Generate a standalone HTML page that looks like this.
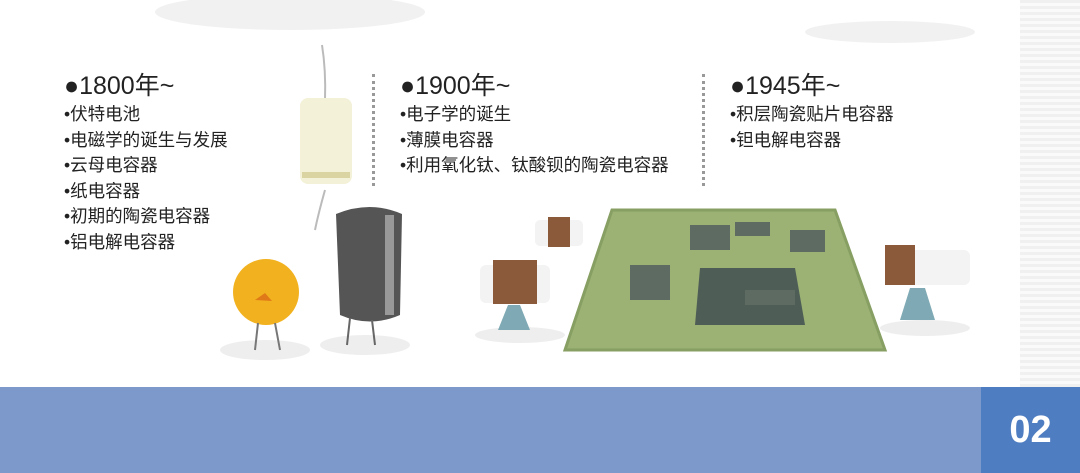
<!DOCTYPE html>
<html><head><meta charset="utf-8"><style>
body{margin:0;width:1080px;height:473px;position:relative;overflow:hidden;background:#fff;font-family:"Liberation Sans","Noto Sans CJK SC",sans-serif;color:#222}
.stripe{position:absolute;left:1020px;top:0;width:60px;height:387px;background:repeating-linear-gradient(#f0f0f0 0 3px,#fafafa 3px 6px)}
.band{position:absolute;left:0;top:387px;width:1080px;height:86px;background:#7d99cc}
.box{position:absolute;left:981px;top:387px;width:99px;height:86px;background:#4f7dc1;color:#fff;font-weight:bold;font-size:38px;text-align:center;line-height:86px}
.col{position:absolute;font-size:17.5px;line-height:25.5px;white-space:nowrap}
.col h{display:block;font-size:25px;line-height:30px;margin-bottom:1px}
.dots{position:absolute;width:0;border-left:3px dotted #999}
</style></head><body>
<div class="stripe"></div>
<svg width="1080" height="473" style="position:absolute;left:0;top:0">
<ellipse cx="290" cy="12" rx="135" ry="18" fill="#f1f1f1"/>
<ellipse cx="890" cy="32" rx="85" ry="11" fill="#f1f1f1"/>
<ellipse cx="265" cy="350" rx="45" ry="10" fill="#eee"/>
<ellipse cx="365" cy="345" rx="45" ry="10" fill="#eee"/>
<ellipse cx="925" cy="328" rx="45" ry="8" fill="#eee"/>
<ellipse cx="520" cy="335" rx="45" ry="8" fill="#eee"/>
<path d="M322 45 Q326 70 325 100" stroke="#bbb" stroke-width="2" fill="none"/>
<path d="M325 190 Q318 215 315 230" stroke="#bbb" stroke-width="2" fill="none"/>
<rect x="300" y="98" width="52" height="86" rx="8" fill="#f3f1d8"/>
<rect x="302" y="172" width="48" height="6" fill="#d9d4a2"/>
<path d="M336 214 Q370 200 402 214 L400 315 Q370 328 340 315 Z" fill="#555"/>
<rect x="385" y="215" width="9" height="100" fill="#999"/>
<path d="M350 318 L347 345 M372 320 L375 345" stroke="#666" stroke-width="2"/>
<circle cx="266" cy="292" r="33" fill="#f2b21f"/>
<path d="M255 300 L265 293 L272 301 Z" fill="#e07a18"/>
<path d="M258 323 L255 350 M275 323 L280 350" stroke="#777" stroke-width="2"/>
<path d="M612 210 L835 210 L885 350 L565 350 Z" fill="#9bb274"/>
<path d="M612 210 L835 210 L885 350 L565 350 Z" fill="none" stroke="#879f62" stroke-width="3"/>
<rect x="690" y="225" width="40" height="25" fill="#5d6b63"/>
<rect x="790" y="230" width="35" height="22" fill="#5d6b63"/>
<rect x="735" y="222" width="35" height="14" fill="#5d6b63"/>
<rect x="630" y="265" width="40" height="35" fill="#5d6b63"/>
<path d="M700 268 L795 268 L805 325 L695 325 Z" fill="#4f5d57"/>
<rect x="745" y="290" width="50" height="15" fill="#5d6b63"/>
<rect x="535" y="220" width="48" height="26" rx="5" fill="#f3f3f3"/><rect x="548" y="217" width="22" height="30" fill="#8a5a3a"/>
<rect x="480" y="265" width="70" height="38" rx="6" fill="#f3f3f3"/><rect x="493" y="260" width="44" height="44" fill="#8a5a3a"/>
<path d="M508 305 L498 330 L530 330 L520 305 Z" fill="#7faab5"/>
<rect x="885" y="250" width="85" height="35" rx="6" fill="#f3f3f3"/><rect x="885" y="245" width="30" height="40" fill="#8a5a3a"/>
<path d="M910 288 L900 320 L935 320 L925 288 Z" fill="#7faab5"/>
</svg>
<div class="dots" style="left:372px;top:74px;height:112px"></div>
<div class="dots" style="left:702px;top:74px;height:112px"></div>
<div class="col" style="left:64px;top:71px"><h>●1800年~</h>•伏特电池<br>•电磁学的诞生与发展<br>•云母电容器<br>•纸电容器<br>•初期的陶瓷电容器<br>•铝电解电容器</div>
<div class="col" style="left:400px;top:71px"><h>●1900年~</h>•电子学的诞生<br>•薄膜电容器<br>•利用氧化钛、钛酸钡的陶瓷电容器</div>
<div class="col" style="left:730px;top:71px"><h>●1945年~</h>•积层陶瓷贴片电容器<br>•钽电解电容器</div>
<div class="band"></div>
<div class="box">02</div>
</body></html>
